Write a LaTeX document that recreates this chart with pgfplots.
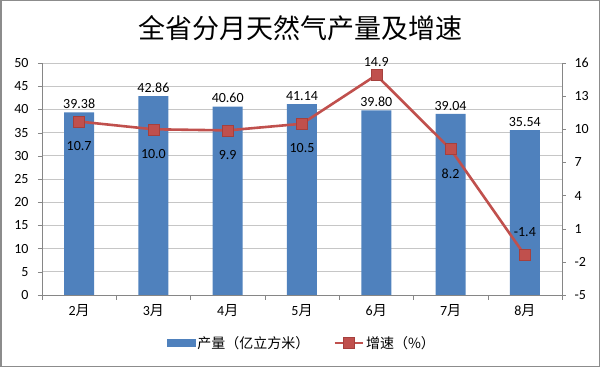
\documentclass[border=0pt]{standalone}
\usepackage{fontspec}
\setmainfont{Carlito}
\newfontfamily\cjk{Noto Sans CJK SC}
\usepackage{pgfplots}
\pgfplotsset{compat=1.18}
\definecolor{barblue}{HTML}{4F81BD}
\definecolor{linered}{HTML}{C0504D}
\definecolor{linereddark}{HTML}{A5403D}
\definecolor{gridgray}{HTML}{C6C6C6}
\definecolor{axisgray}{HTML}{868686}
\definecolor{framegray}{HTML}{8C8C8C}

\pgfplotsset{
  lbl/.style={forget plot, draw=none, mark=none, nodes near coords,
    every node near coord/.append style={font=\fontsize{14}{16}\selectfont, black, inner sep=0pt},
    /pgf/number format/fixed, /pgf/number format/fixed zerofill, /pgf/number format/precision=1, /pgf/number format/assume math mode=true},
  linelegend/.style={legend image code/.code={\draw[mark repeat=2,mark phase=2,##1] plot coordinates {(0pt,0pt) (14pt,0pt) (28pt,0pt)};}},
  barlegend/.style={legend image code/.code={\fill[barblue] (0pt,-3.5pt) rectangle (28pt,3.5pt);}},
}

\begin{document}
\begin{tikzpicture}[x=1pt,y=1pt]
\draw[line width=1.5pt, framegray] (0.75,0.75) rectangle (599.25,366.25);
\node[font=\cjk\fontsize{27}{30}\selectfont] at (300,339) {全省分月天然气产量及增速};

\begin{axis}[
  at={(42pt,72pt)}, anchor=south west,
  scale only axis, width=520pt, height=232pt,
  xmin=-0.5, xmax=6.5,
  ymin=0, ymax=50, ytick={0,5,...,50},
  xtick={0,...,6},
  xticklabels={2{\cjk 月},3{\cjk 月},4{\cjk 月},5{\cjk 月},6{\cjk 月},7{\cjk 月},8{\cjk 月}},
  minor xtick={-0.5,0.5,...,6.5},
  major tick length=4pt, minor tick length=5pt,
  tick align=outside,
  major x tick style={draw=none},
  tick style={axisgray},
  axis x line*=bottom, axis y line*=left,
  axis line style={axisgray, line width=0.8pt, -},
  ymajorgrids, grid style={gridgray, line width=0.8pt},
  font=\fontsize{14}{16}\selectfont,
  /pgf/number format/assume math mode=true,
  ticklabel style={font=\fontsize{14}{16}\selectfont},
  yticklabel style={xshift=-6pt},
  xticklabel style={yshift=-2pt},
  clip=false,
]
\addplot[ybar, bar width=30pt, fill=barblue, draw=none,
  nodes near coords, nodes near coords align={vertical},
  every node near coord/.append style={font=\fontsize{14}{16}\selectfont, black},
  /pgf/number format/fixed, /pgf/number format/fixed zerofill, /pgf/number format/precision=2, /pgf/number format/assume math mode=true]
  coordinates {(0,39.38) (1,42.86) (2,40.60) (3,41.14) (4,39.80) (5,39.04) (6,35.54)};
\end{axis}

\begin{axis}[
  at={(42pt,72pt)}, anchor=south west,
  scale only axis, width=520pt, height=232pt,
  xmin=-0.5, xmax=6.5,
  ymin=-5, ymax=16, ytick={-5,-2,...,16},
  hide x axis,
  axis y line*=right,
  axis line style={axisgray, line width=0.8pt, -},
  major tick length=4pt, tick align=outside,
  tick style={axisgray},
  /pgf/number format/assume math mode=true,
  ticklabel style={font=\fontsize{14}{16}\selectfont},
  yticklabel style={xshift=5pt},
  clip=false,
  legend style={at={(0.5,0)}, anchor=center, yshift=-48pt, draw=none, fill=none,
    font=\cjk\fontsize{14}{16}\selectfont, legend columns=2,
    /tikz/every even column/.append style={column sep=22pt}, inner sep=0pt},
  legend cell align=left,
]
\addlegendimage{barlegend}
\addlegendentry{产量（亿立方米）\hspace{0pt}}
\addplot[linered, line width=2.6pt, mark=square*, mark size=5.5pt,
  mark options={fill=linered, draw=linereddark, line width=0.5pt, solid},
  linelegend]
  coordinates {(0,10.7) (1,10.0) (2,9.9) (3,10.5) (4,14.9) (5,8.2) (6,-1.4)};
\addlegendentry{增速（\%）\hspace{0pt}}
% labels below points
\addplot[lbl, every node near coord/.append style={anchor=north, yshift=-19.5pt}]
  coordinates {(0,10.7) (1,10.0) (2,9.9) (3,10.5) (5,8.2)};
% labels above points
\addplot[lbl, every node near coord/.append style={anchor=south, yshift=8.5pt}]
  coordinates {(4,14.9)};
\addplot[lbl, every node near coord/.append style={anchor=south, yshift=18.5pt}]
  coordinates {(6,-1.4)};
\end{axis}
\end{tikzpicture}
\end{document}
